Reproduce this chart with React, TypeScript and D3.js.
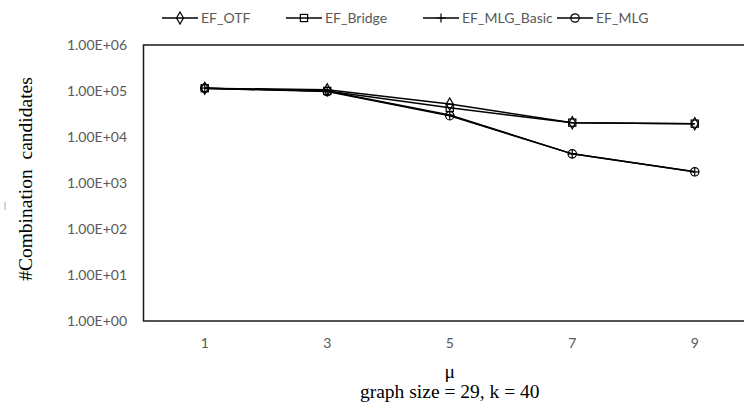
import React from "react";
import * as d3 from "d3";

const categories = ["1", "3", "5", "7", "9"];
const yTickValues = [1, 10, 100, 1000, 10000, 100000, 1000000];
const yTickLabels = ["1.00E+00", "1.00E+01", "1.00E+02", "1.00E+03", "1.00E+04", "1.00E+05", "1.00E+06"];
const seriesNames = ["EF_OTF", "EF_Bridge", "EF_MLG_Basic", "EF_MLG"];
const efOTF = [115000, 106000, 52000, 20500, 19500];
const efBridge = [115000, 100000, 43000, 20500, 19500];
const efMLGBasic = [115000, 100000, 30000, 4300, 1750];
const efMLG = [115000, 97000, 29000, 4300, 1750];
const xTitle = "μ";
const subTitle = "graph size = 29, k = 40";
const yTitle = "#Combination  candidates";

const W = 744;
const H = 410;
const M = { left: 143.5, top: 45, bottom: 321, right: 756 };
const SANS = "Lato, 'Open Sans', sans-serif";
const SERIF = "'Liberation Serif', 'DejaVu Serif', serif";

type MarkerKind = "diamond" | "square" | "plus" | "circle";
const markerKinds: MarkerKind[] = ["diamond", "square", "plus", "circle"];
const legendTextX = [201, 325, 462, 596];

function Marker({ kind, x, y }: { kind: MarkerKind; x: number; y: number }) {
  const common = { stroke: "#000", strokeWidth: 1.2, fill: "none" };
  if (kind === "diamond") {
    const p = d3.symbol().type(d3.symbolDiamond).size(42)();
    return <path d={p || ""} transform={`translate(${x},${y})`} {...common} />;
  }
  if (kind === "square") {
    return <rect x={x - 3.6} y={y - 3.6} width={7.2} height={7.2} {...common} />;
  }
  if (kind === "plus") {
    return (
      <path
        d={`M${x - 4.5},${y}H${x + 4.5}M${x},${y - 4.5}V${y + 4.5}`}
        stroke="#000"
        strokeWidth={1.2}
        fill="none"
      />
    );
  }
  return <circle cx={x} cy={y} r={4.2} {...common} />;
}

export default function App() {
  const x = d3.scaleBand<string>().domain(categories).range([M.left, M.right]).padding(0);
  const cx = (c: string) => (x(c) as number) + x.bandwidth() / 2;
  const y = d3.scaleLog().domain([1, 1000000]).range([M.bottom, M.top]);
  const allSeries = [efOTF, efBridge, efMLGBasic, efMLG];
  const line = d3
    .line<number>()
    .x((_, i) => cx(categories[i]))
    .y((v) => y(v));

  const midX = cx("5");

  return (
    <svg
      width={W}
      height={H}
      style={{ position: "absolute", left: 0, top: 0, background: "#fff" }}
    >
      <rect x={0} y={0} width={W} height={H} fill="#fff" />
      <rect
        x={M.left}
        y={M.top}
        width={M.right - M.left}
        height={M.bottom - M.top}
        fill="none"
        stroke="#1a1a1a"
        strokeWidth={1.5}
      />
      {yTickValues.map((v, i) => (
        <text
          key={v}
          x={127}
          y={y(v)}
          dy="0.35em"
          textAnchor="end"
          fontFamily={SANS}
          fontSize={14}
          fill="#595959"
        >
          {yTickLabels[i]}
        </text>
      ))}
      {categories.map((c) => (
        <text
          key={c}
          x={cx(c)}
          y={343}
          dy="0.35em"
          textAnchor="middle"
          fontFamily={SANS}
          fontSize={14}
          fill="#595959"
        >
          {c}
        </text>
      ))}
      {allSeries.map((s, si) => (
        <path key={si} d={line(s) || ""} fill="none" stroke="#000" strokeWidth={1.5} />
      ))}
      {allSeries.map((s, si) =>
        s.map((v, i) => (
          <Marker key={`${si}-${i}`} kind={markerKinds[si]} x={cx(categories[i])} y={y(v)} />
        ))
      )}
      {seriesNames.map((n, i) => {
        const tx = legendTextX[i];
        const x1 = tx - 39;
        const x2 = tx - 3;
        const ly = 18;
        return (
          <g key={n}>
            <line x1={x1} x2={x2} y1={ly} y2={ly} stroke="#000" strokeWidth={1.5} />
            <Marker kind={markerKinds[i]} x={(x1 + x2) / 2} y={ly} />
            <text x={tx} y={ly} dy="0.35em" fontFamily={SANS} fontSize={14} fill="#595959">
              {n}
            </text>
          </g>
        );
      })}
      <text
        transform={`translate(32,${179}) rotate(-90)`}
        textAnchor="middle"
        fontFamily={SERIF}
        fontSize={19.5}
        fill="#000"
        style={{ whiteSpace: "pre" }}
        xmlSpace="preserve"
      >
        {yTitle}
      </text>
      <line x1={5} x2={5} y1={202} y2={210} stroke="#aaa" strokeWidth={1} />
      <text x={midX} y={371} dy="0.35em" textAnchor="middle" fontFamily={SERIF} fontSize={19.5} fill="#000">
        {xTitle}
      </text>
      <text x={midX} y={391} dy="0.35em" textAnchor="middle" fontFamily={SERIF} fontSize={19.5} fill="#000">
        {subTitle}
      </text>
    </svg>
  );
}
